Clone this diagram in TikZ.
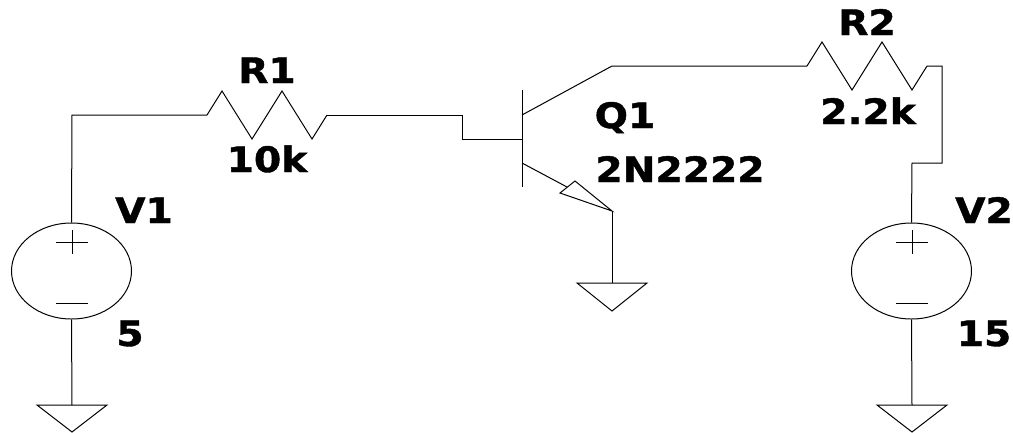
\documentclass[tikz,border=0pt]{standalone}
\usepackage{fontspec}
\setmainfont{DejaVu Sans}
\newfontfamily\lblfont[BoldFeatures={FakeStretch=1.12,FakeBold=1.2}]{DejaVu Sans}
\usetikzlibrary{shapes.geometric}
\tikzset{
  wire/.style={draw=black,line width=1pt,line join=miter},
  lbl/.style={font=\lblfont\fontsize{35}{35}\selectfont\bfseries,inner sep=0pt,text=black,anchor=base},
  src/.style={draw=black,line width=1pt,ellipse,minimum width=120pt,minimum height=96pt,inner sep=0pt}
}
\begin{document}
\begin{tikzpicture}[x=1pt,y=-1pt]
\useasboundingbox (0,0) rectangle (1013,432);
% sources
\node[src] (v1) at (71.5,271) {};
\node[src] (v2) at (911.5,271) {};
% named points
\coordinate (c1) at (72,115);
\coordinate (r1a) at (207,115);
\coordinate (r1b) at (327,115);
\coordinate (b1) at (462,115);
\coordinate (b2) at (462,139);
\coordinate (base) at (522,139);
\coordinate (bartop) at (522,90);
\coordinate (barbot) at (522,187);
\coordinate (col) at (522,115);
\coordinate (col2) at (612,66);
\coordinate (r2a) at (807,66);
\coordinate (r2b) at (927,66);
\coordinate (c2) at (942,66);
\coordinate (c3) at (942,163);
\coordinate (c4) at (912,163);
\coordinate (em) at (522,163);
\coordinate (emj) at (567,187);
\coordinate (tip) at (612,211);
\coordinate (g1) at (72,405);
\coordinate (g2) at (612,283);
\coordinate (g3) at (912,405);
% wires
\draw[wire] (v1.north) -- (c1) -- (r1a);
\draw[wire] (r1a) -- ++(15,-24) -- ++(30,48) -- ++(30,-48) -- ++(30,48) -- (r1b);
\draw[wire] (r1b) -- (b1) -- (b2) -- (base);
\draw[wire] (bartop) -- (barbot);
\draw[wire] (col) -- (col2) -- (r2a);
\draw[wire] (r2a) -- ++(15,-24) -- ++(30,48) -- ++(30,-48) -- ++(30,48) -- (r2b);
\draw[wire] (r2b) -- (c2) -- (c3) -- (c4) -- (v2.north);
\draw[wire] (em) -- (emj);
\draw[wire] (tip) -- (560,193) -- (575,181) -- cycle;
\draw[wire] (tip) -- (g2);
\draw[wire] (v1.south) -- (g1);
\draw[wire] (v2.south) -- (g3);
% grounds
\draw[wire] (g1) ++(-35,0) -- ++(70,0) -- ++(-35,27) -- cycle;
\draw[wire] (g2) ++(-35,0) -- ++(70,0) -- ++(-35,28) -- cycle;
\draw[wire] (g3) ++(-35,0) -- ++(70,0) -- ++(-35,27) -- cycle;
% polarity
\draw[wire] (56,242) -- (88,242) (72,230) -- (72,254) (56,303) -- (88,303);
\draw[wire] (896,242) -- (928,242) (912,230) -- (912,254) (896,303) -- (928,303);
% labels
\node[lbl] (lr1) at (267,83) {R1};
\node[lbl] (lr1v) at (267,172) {10k};
\node[lbl] (lr2) at (867,35) {R2};
\node[lbl] (lr2v) at (868,124) {2.2k};
\node[lbl] (lq) at (625,128) {Q1};
\node[lbl] (lqv) at (680,182) {2N2222};
\node[lbl] (lv1) at (144,223) {V1};
\node[lbl] (lv1v) at (130,346) {5};
\node[lbl] (lv2) at (984,223) {V2};
\node[lbl] (lv2v) at (984,346) {15};
\end{tikzpicture}
\end{document}
